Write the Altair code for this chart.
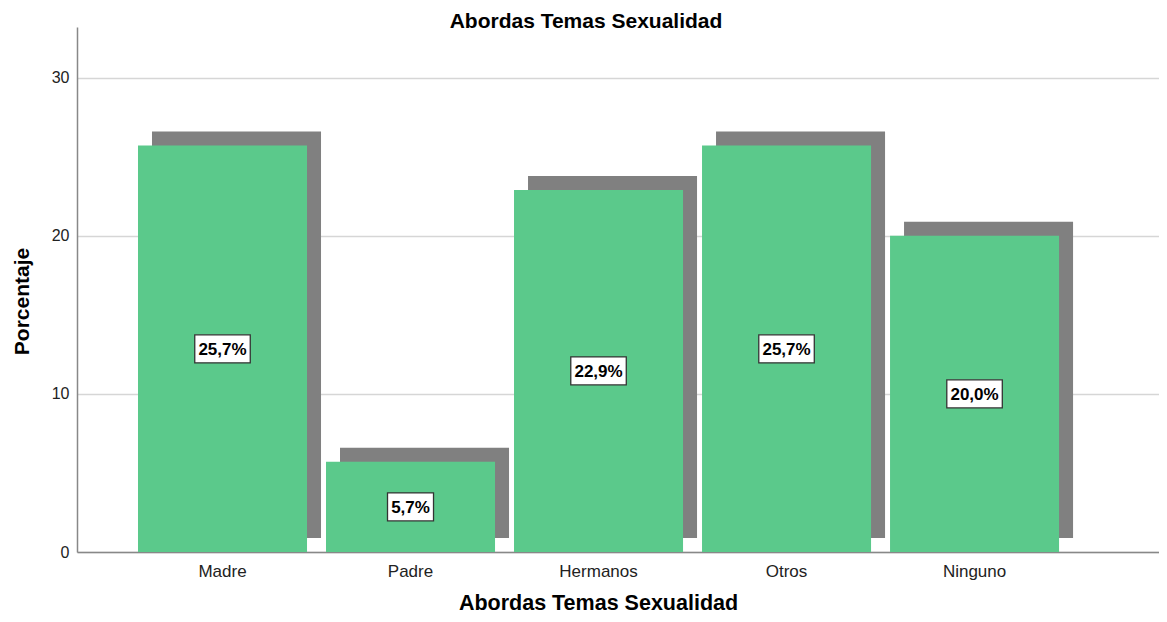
import altair as alt
import pandas as pd

categories = ["Madre", "Padre", "Hermanos", "Otros", "Ninguno"]
values = [25.7, 5.7, 22.9, 25.7, 20.0]

df = pd.DataFrame({"cat": categories, "value": values})

FONT = "Liberation Sans"
GREEN = "#5bc98b"

x = alt.X("cat:N", sort=categories,
          scale=alt.Scale(paddingInner=0.101, paddingOuter=0.428, align=0.379),
          axis=alt.Axis(title="Abordas Temas Sexualidad", labelAngle=0, ticks=False,
                        labelFontSize=17, labelFont=FONT, labelColor="#222", labelPadding=11,
                        titleFont=FONT, titleFontSize=21.5, titleFontWeight="bold", titleColor="#000",
                        titleX=521, titleY=57, titleBaseline="alphabetic",
                        domainColor="#888", domainWidth=1.5, grid=False))
y = alt.Y("value:Q", scale=alt.Scale(domain=[0, 33.2], nice=False),
          axis=alt.Axis(title="Porcentaje", values=[0, 10, 20, 30], ticks=False,
                        labelFontSize=16, labelFont=FONT, labelColor="#222", labelPadding=8,
                        titleFont=FONT, titleFontSize=21, titleFontWeight="bold", titleColor="#000",
                        titleX=-55, titleY=274, titleAngle=-90, titleAlign="center", titleBaseline="middle",
                        domainColor="#888", domainWidth=1.5,
                        grid=True, gridColor="#d6d6d6", gridWidth=1.5))

base = alt.Chart(df)

shadow = base.mark_bar(color="#808080", xOffset=14, x2Offset=14, yOffset=-14, y2Offset=-12).encode(
    x=x, y=y)
bars = base.mark_bar(color=GREEN).encode(x=x, y=y)

lab = base.transform_calculate(
    label="replace(format(datum.value, '.1f'), '.', ',') + '%'",
    mid="datum.value / 2",
).transform_calculate(
    hw="(length(datum.label) * 9.5 + 8) / 60",
).transform_calculate(
    path="'M' + (-datum.hw) + ',-0.467H' + datum.hw + 'V0.467H' + (-datum.hw) + 'Z'"
)

boxes = lab.mark_point(filled=True, fill="white", stroke="#333", strokeWidth=1.3, opacity=1,
                       size=3600).encode(
    x=x, y=alt.Y("mid:Q"), shape=alt.Shape("path:N", scale=None))
texts = lab.mark_text(font=FONT, fontSize=17, fontWeight="bold", color="#000", dy=1).encode(
    x=x, y=alt.Y("mid:Q"), text="label:N")

chart = alt.layer(shadow, bars, boxes, texts).properties(
    width=1082, height=525,
    title=alt.TitleParams("Abordas Temas Sexualidad", font=FONT, fontSize=21, fontWeight="bold",
                          color="#000", anchor="middle", dx=-32, offset=0, dy=5),
    autosize=alt.AutoSizeParams(type="none"),
    padding={"left": 69, "top": 19, "right": 0, "bottom": 62},
).configure_view(stroke=None).configure_axis(labelFontWeight="normal")

chart.save("out.html", embed_options={"renderer": "svg", "actions": False})
